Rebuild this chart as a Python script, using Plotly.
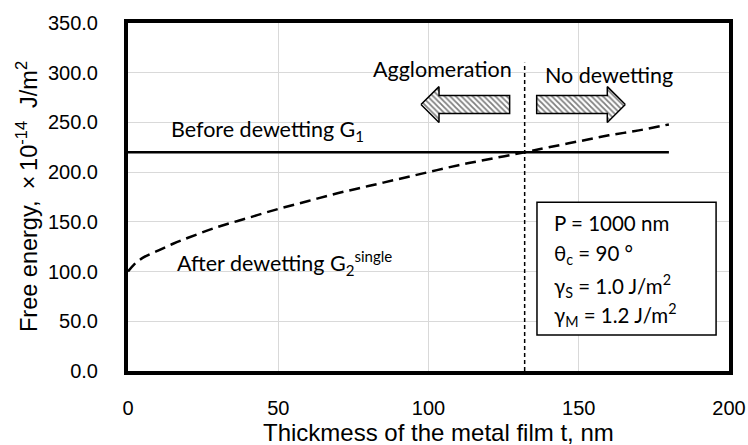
import plotly.graph_objects as go

# ---- data ----
t_g1 = [0, 180]
g1 = [220, 220]

t_g2 = [0, 2, 5, 10, 15, 20, 30, 40, 50, 60, 70, 80, 90, 100, 110, 120, 132, 140, 150, 160, 170, 180]
g2 = [100, 107, 114, 121, 128, 134, 145, 154, 163, 171, 179, 186, 193, 200, 207, 213, 220, 225, 231, 237, 242, 248]

t_cross = 132          # critical thickness (vertical dashed line)
cross_top = 310

x_ticks = [0, 50, 100, 150, 200]
y_ticks = [0, 50, 100, 150, 200, 250, 300, 350]

BLACK = "black"
ANN_FONT = "Lato"
AX_FONT = "Liberation Sans"

fig = go.Figure()

# hatched block arrows (decoration)
def arrow(direction, x0, length, head_len, yc, half_body, half_head):
    if direction < 0:
        tip = x0 - length
        base = tip + head_len
    else:
        tip = x0 + length
        base = tip - head_len
    xs = [tip, base, base, x0, x0, base, base, tip]
    ys = [yc, yc + half_head, yc + half_body, yc + half_body,
          yc - half_body, yc - half_body, yc - half_head, yc]
    return xs, ys

for d, x0 in [(-1, t_cross - 5), (1, t_cross + 4)]:
    xs, ys = arrow(d, x0, 29.5, 6, 268, 9, 18)
    fig.add_trace(go.Scatter(
        x=xs, y=ys, mode="lines", fill="toself",
        fillcolor="white",
        fillpattern=dict(shape="\\", fgcolor=BLACK, bgcolor="white", size=4, solidity=0.45),
        line=dict(color=BLACK, width=1.5), hoverinfo="skip", showlegend=False))

fig.add_trace(go.Scatter(x=[t_cross, t_cross], y=[0, cross_top], mode="lines",
                         line=dict(color=BLACK, width=1.5, dash="4px,3px"), showlegend=False))
fig.add_trace(go.Scatter(x=t_g1, y=g1, mode="lines",
                         line=dict(color=BLACK, width=2.5), showlegend=False))
fig.add_trace(go.Scatter(x=t_g2, y=g2, mode="lines", line_shape="spline",
                         line=dict(color=BLACK, width=2.5, dash="11px,6px"), showlegend=False))

def ann(x, y, text, size=21.5, xanchor="center"):
    fig.add_annotation(x=x, y=y, xref="x", yref="y", text=text, showarrow=False,
                       xanchor=xanchor, yanchor="middle",
                       font=dict(family=ANN_FONT, size=size, color=BLACK))

ann(104.5, 304, "Agglomeration")
ann(160, 298, "No dewetting")
ann(46.5, 242, "Before dewetting G<sub>1</sub>")
ann(52, 109, "After dewetting G<sub>2</sub><sup>single</sup>")

# parameter box
fig.add_shape(type="rect", x0=136.1, x1=195.7, y0=36.2, y1=169.8, xref="x", yref="y",
              line=dict(color=BLACK, width=1.5), fillcolor="white", layer="above")
box_lines = ["P = 1000 nm", "θ<sub>c</sub> = 90 °", "γ<sub>S</sub> = 1.0 J/m<sup>2</sup>",
             "γ<sub>M</sub> = 1.2 J/m<sup>2</sup>"]
box_y = [149, 117, 85, 56]
for txt, yy in zip(box_lines, box_y):
    ann(141, yy, txt, size=20.5, xanchor="left")

# axis titles as annotations for precise placement
fig.add_annotation(x=-0.168, y=0.5, xref="paper", yref="paper", textangle=-90,
                   text="Free energy, \u2009×\u200910<sup>-14</sup>  J/m<sup>2</sup>",
                   showarrow=False, xanchor="center", yanchor="middle",
                   font=dict(family=AX_FONT, size=23.5, color=BLACK))
fig.add_annotation(x=0.517, y=-0.176, xref="paper", yref="paper",
                   text="Thickmess of the metal film t, nm",
                   showarrow=False, xanchor="center", yanchor="middle",
                   font=dict(family=AX_FONT, size=24, color=BLACK))

fig.update_layout(
    width=748, height=445,
    margin=dict(l=128, r=19, t=23, b=74),
    paper_bgcolor="white", plot_bgcolor="white",
    showlegend=False,
)
fig.update_xaxes(
    range=[0, 200], tickvals=x_ticks, ticktext=[str(v) for v in x_ticks],
    showgrid=True, gridcolor="#d9d9d9", gridwidth=1, zeroline=False,
    showline=True, mirror=True, linecolor=BLACK, linewidth=4,
    ticks="", ticklabelstandoff=16, automargin=False,
    tickfont=dict(family=AX_FONT, size=20, color=BLACK),
)
fig.update_yaxes(
    range=[0, 350], tickvals=y_ticks, ticktext=[f"{v:.1f}" for v in y_ticks],
    showgrid=True, gridcolor="#d9d9d9", gridwidth=1, zeroline=False,
    showline=True, mirror=True, linecolor=BLACK, linewidth=4,
    ticks="", ticklabelstandoff=22, automargin=False,
    tickfont=dict(family=AX_FONT, size=20, color=BLACK),
)

fig.write_html("out.html")
